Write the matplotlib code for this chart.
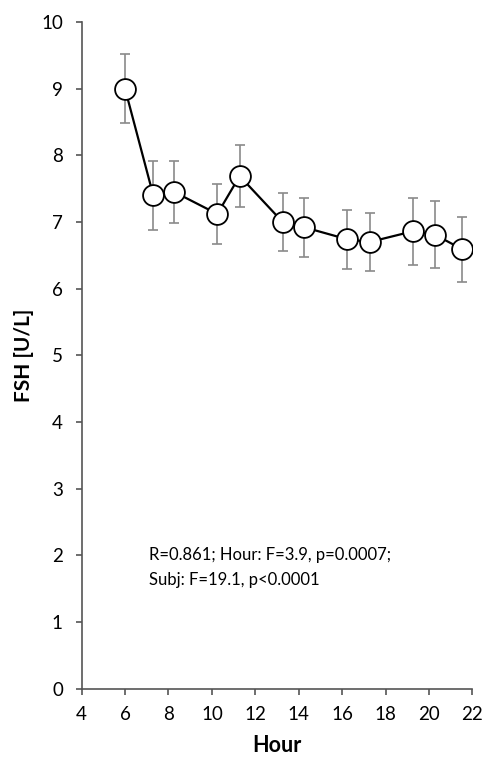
import matplotlib
matplotlib.use("Agg")
import matplotlib.pyplot as plt

hours = [6.0, 7.3, 8.27, 10.25, 11.28, 13.26, 14.26, 16.24, 17.27, 19.25, 20.27, 21.54]
fsh = [9.0, 7.40, 7.45, 7.12, 7.69, 7.00, 6.92, 6.74, 6.70, 6.86, 6.81, 6.59]
sem = [0.52, 0.52, 0.46, 0.45, 0.47, 0.44, 0.445, 0.44, 0.44, 0.50, 0.50, 0.49]
stats_lines = ["R=0.861; Hour: F=3.9, p=0.0007;", "Subj: F=19.1, p<0.0001"]

plt.rcParams["font.family"] = ["Lato", "DejaVu Sans"]

fig = plt.figure(figsize=(4.83, 7.6), dpi=100)
ax = fig.add_axes([0.169, 0.094, 0.809, 0.877])

ax.errorbar(hours, fsh, yerr=sem, fmt="none", ecolor="#8a8a8a", elinewidth=1.2,
            capsize=3.5, capthick=1.2, zorder=1)
ax.plot(hours, fsh, color="black", lw=1.6, marker="o", markersize=15,
        markerfacecolor="white", markeredgecolor="black", markeredgewidth=1.3, zorder=2)

ax.set_xlim(4, 22)
ax.set_ylim(0, 10)
ax.set_xticks(range(4, 23, 2))
ax.set_yticks(range(0, 11))

for side in ("top", "right"):
    ax.spines[side].set_visible(False)
for side in ("left", "bottom"):
    ax.spines[side].set_color("#555555")
    ax.spines[side].set_linewidth(1.2)

ax.tick_params(axis="both", direction="out", length=4.5, width=1.2, color="#555555",
               labelsize=13.5, labelcolor="black")
ax.tick_params(axis="y", pad=9)
ax.tick_params(axis="x", pad=8)

ax.set_xlabel("Hour", fontsize=15.5, fontweight="bold", labelpad=9)
ax.set_ylabel("FSH [U/L]", fontsize=15, fontweight="bold", labelpad=5)

ax.text(7.12, 1.93, stats_lines[0], fontsize=12, va="baseline", ha="left")
ax.text(7.12, 1.555, stats_lines[1], fontsize=12, va="baseline", ha="left")

fig.savefig("out.png", dpi=100)
